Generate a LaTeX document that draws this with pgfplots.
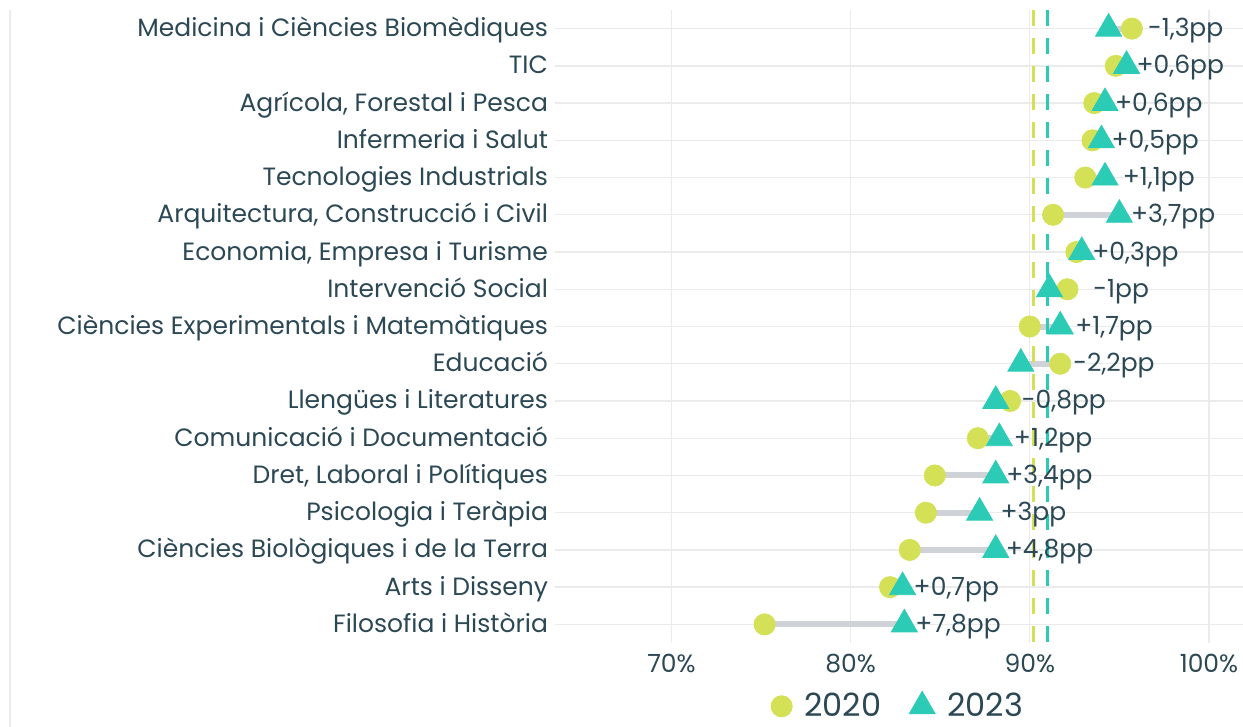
\documentclass[border=0pt]{standalone}
\usepackage{fontspec}
\setmainfont{Poppins}
\usepackage{pgfplots}
\usepackage{pgfplotstable}
\pgfplotsset{compat=1.18}

\definecolor{c2020}{HTML}{D4E157}
\definecolor{c2023}{HTML}{2CCBB6}
\definecolor{linkgray}{HTML}{CFD3D8}
\definecolor{gridgray}{HTML}{EBEBEB}
\definecolor{txt}{HTML}{2B4854}

% y = row from top; a = 2020, b = 2023
\pgfplotstableread{
y  a     b     lab
0  95.7  94.4  -1,3pp
1  94.8  95.4  +0,6pp
2  93.6  94.2  +0,6pp
3  93.5  94.0  +0,5pp
4  93.1  94.2  +1,1pp
5  91.3  95.0  +3,7pp
6  92.6  92.9  +0,3pp
7  92.1  91.1  -1pp
8  90.0  91.7  +1,7pp
9  91.7  89.5  -2,2pp
10 88.9  88.1  -0,8pp
11 87.1  88.3  +1,2pp
12 84.7  88.1  +3,4pp
13 84.2  87.2  +3pp
14 83.3  88.1  +4,8pp
15 82.2  82.9  +0,7pp
16 75.2  83.0  +7,8pp
}\dumbbell

\begin{document}
\begin{tikzpicture}
\begin{axis}[
    scale only axis,
    width=344pt, height=316.5pt,
    xmin=63.5, xmax=101.9,
    ymin=-0.5, ymax=16.5,
    y dir=reverse,
    xtick={70,80,90,100},
    xticklabels={70\%,80\%,90\%,100\%},
    ytick={0,...,16},
    yticklabels={
        Medicina i Ciències Biomèdiques,
        TIC,
        {Agrícola, Forestal i Pesca},
        Infermeria i Salut,
        Tecnologies Industrials,
        {Arquitectura, Construcció i Civil},
        {Economia, Empresa i Turisme},
        Intervenció Social,
        Ciències Experimentals i Matemàtiques,
        Educació,
        Llengües i Literatures,
        Comunicació i Documentació,
        {Dret, Laboral i Polítiques},
        Psicologia i Teràpia,
        Ciències Biològiques i de la Terra,
        Arts i Disseny,
        Filosofia i Història},
    grid=major,
    major grid style={gridgray, line width=0.7pt},
    axis line style={draw=none},
    major tick length=0pt,
    tick label style={font=\fontsize{12.5}{14}\selectfont, text=txt},
    yticklabel style={text height=9pt, text depth=1pt},
    xticklabel style={yshift=-2pt},
    legend style={at={(0.5,-0.1)}, anchor=center, draw=none, fill=none,
        font=\fontsize{16}{18}\selectfont, text=txt,
        /tikz/every odd column/.append style={column sep=4pt},
        /tikz/every even column/.append style={column sep=12pt}},
    legend columns=2,
    legend cell align=left,
]

% gray connectors
\addplot[forget plot, draw=none, mark=none,
    error bars/.cd, x dir=plus, x explicit, error mark=none,
    error bar style={line width=3pt, linkgray}]
    table[x=a, y=y, x error expr=\thisrow{b}-\thisrow{a}] {\dumbbell};

% average lines
\addplot[forget plot, c2020, line width=1.7pt, dash pattern=on 8pt off 6pt]
    coordinates {(90.2,-0.5) (90.2,16.5)};
\addplot[forget plot, c2023, line width=1.7pt, dash pattern=on 8pt off 6pt]
    coordinates {(91.0,-0.5) (91.0,16.5)};

\addplot[only marks, mark=*, mark size=5.3pt, c2020, mark options={draw=none, fill=c2020}]
    table[x=a, y=y] {\dumbbell};
\addlegendentry{2020}
\addplot[only marks, mark=triangle*, mark size=7.5pt, c2023, mark options={draw=none, fill=c2023}]
    table[x=b, y=y] {\dumbbell};
\addlegendentry{2023}

% change labels
\addplot[forget plot, only marks, mark=*, mark size=0pt, mark options={draw=none, fill=none},
    point meta=explicit symbolic,
    nodes near coords,
    nodes near coords style={anchor=center, text height=9pt, text depth=1pt,
        font=\fontsize{12.5}{14}\selectfont, text=txt}]
    table[x expr={max(\thisrow{a},\thisrow{b})+3.0}, y=y, meta=lab] {\dumbbell};

\end{axis}
\pgfresetboundingbox
\path[use as bounding box] ([shift={(-277.5pt,-42pt)}]current axis.south west)
    rectangle ([shift={(0pt,5pt)}]current axis.north east);
\draw[gridgray, line width=0.7pt] ([shift={(-272.5pt,-42pt)}]current axis.south west)
    -- ([shift={(-272.5pt,0pt)}]current axis.north west);
\end{tikzpicture}
\end{document}
